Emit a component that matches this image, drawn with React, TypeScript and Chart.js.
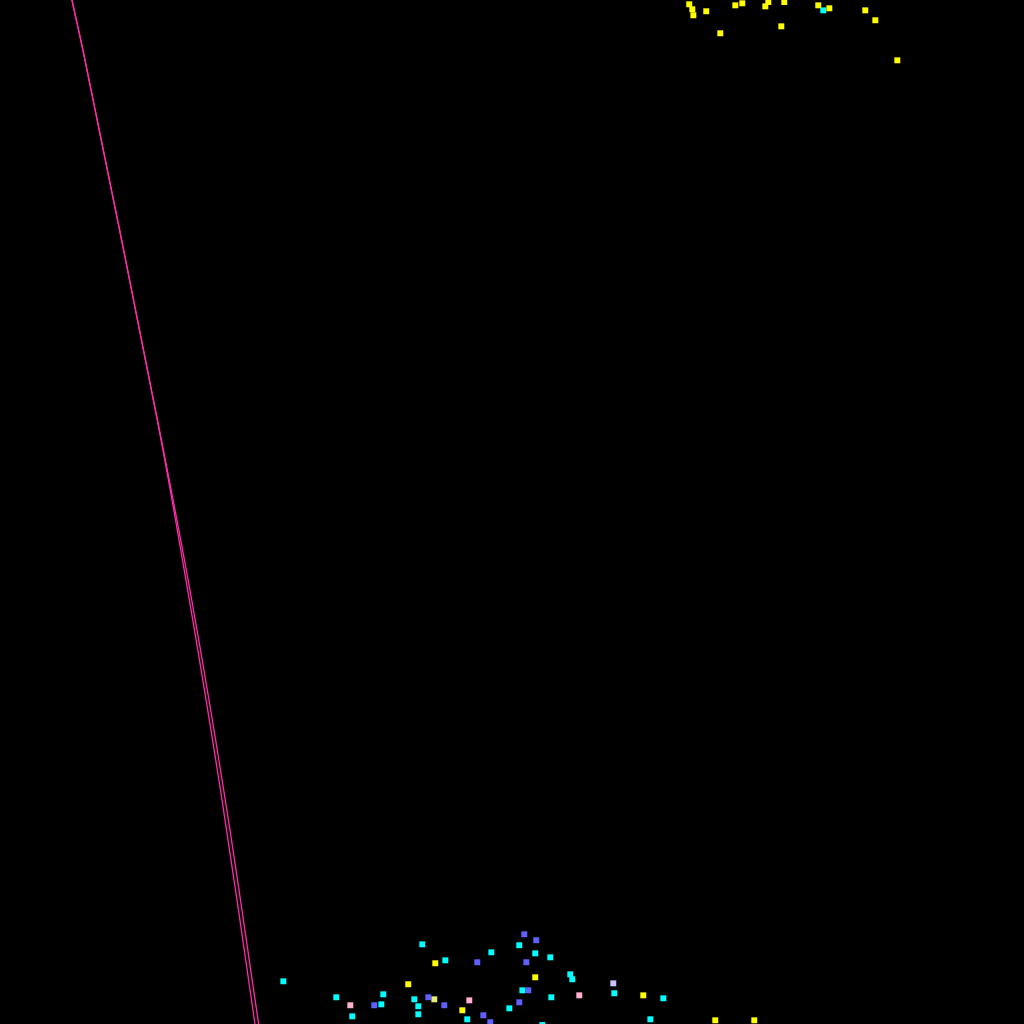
import { useEffect, useRef } from "react";
import Chart from "chart.js/auto";

// Both traces share the same y samples; they split apart a little below the middle
const lineY = [109.77, 100, 94.14, 58.98, 41.41, 21.88, 0, -7.42];
const lineAX = [4.98, 7.03, 8.3, 15.36, 18.49, 21.68, 24.9, 25.98];
const lineBX = [4.98, 7.03, 8.3, 15.38, 18.72, 22.0, 25.26, 26.37];

const yellowX = [67.31, 67.61, 67.71, 68.97, 70.34, 71.81, 72.49, 74.74, 75.03, 76.59, 76.3, 79.91, 80.99, 84.5, 85.48, 87.63, 42.51, 39.87, 45.15, 52.27, 62.82, 69.85, 73.66];
const yellowY = [99.58, 99.09, 98.51, 98.9, 96.75, 99.48, 99.68, 99.38, 99.8, 99.8, 97.43, 99.48, 99.19, 98.99, 98.02, 94.11, 5.93, 3.88, 1.34, 4.56, 2.8, 0.36, 0.36];

const cyanX = [80.4, 27.67, 41.24, 43.49, 47.98, 32.84, 34.4, 37.43, 37.24, 40.46, 40.85, 40.85, 45.63, 50.71, 52.27, 53.74, 55.69, 55.89, 51.01, 53.84, 59.99, 64.78, 49.74, 52.96, 63.51];
const cyanY = [98.99, 4.17, 7.78, 6.22, 7.0, 2.61, 0.75, 2.9, 1.92, 2.41, 1.73, 0.95, 0.46, 7.69, 6.9, 6.51, 4.85, 4.37, 3.29, 2.61, 3.0, 2.51, 1.53, -0.1, 0.46];

const blueX = [46.61, 36.55, 41.83, 43.39, 47.2, 47.88, 51.2, 52.37, 51.4, 51.59, 50.71];
const blueY = [6.03, 1.83, 2.61, 1.83, 0.85, 0.17, 8.76, 8.18, 6.03, 3.29, 2.12];

const pinkX = [34.21, 45.83, 56.57];
const pinkY = [1.83, 2.31, 2.8];

const lilacX = [59.89];
const lilacY = [3.97];

const limeX = [42.41];
const limeY = [2.41];

const toPoints = (xs: number[], ys: number[]) => xs.map((x, i) => ({ x, y: ys[i] }));

const pointSet = (label: string, xs: number[], ys: number[], color: string) => ({
  label,
  data: toPoints(xs, ys),
  backgroundColor: color,
  borderWidth: 0,
  pointStyle: "rect" as const,
  pointRadius: 4.2,
  clip: false as const,
});

export default function App() {
  const chartRef = useRef<HTMLCanvasElement>(null);
  const chartInstance = useRef<Chart | null>(null);

  useEffect(() => {
    if (!chartRef.current) return;
    document.body.style.margin = "0";
    document.body.style.background = "#000";

    if (chartInstance.current) {
      chartInstance.current.destroy();
    }

    const ctx = chartRef.current.getContext("2d");
    if (ctx) {
      chartInstance.current = new Chart(ctx, {
        type: "scatter",
        data: {
          datasets: [
            {
              label: "Trace A",
              data: toPoints(lineAX, lineY),
              showLine: true,
              borderColor: "#ff2aa8",
              borderWidth: 1.3,
              pointRadius: 0,
              tension: 0.4,
            },
            {
              label: "Trace B",
              data: toPoints(lineBX, lineY),
              showLine: true,
              borderColor: "#ff2aa8",
              borderWidth: 1.3,
              pointRadius: 0,
              tension: 0.4,
            },
            pointSet("Yellow", yellowX, yellowY, "#ffff00"),
            pointSet("Cyan", cyanX, cyanY, "#00ffff"),
            pointSet("Blue", blueX, blueY, "#6060ff"),
            pointSet("Pink", pinkX, pinkY, "#ffb0d0"),
            pointSet("Lilac", lilacX, lilacY, "#c8c0ff"),
            pointSet("Lime", limeX, limeY, "#e4f070"),
          ],
        },
        options: {
          animation: false,
          responsive: true,
          maintainAspectRatio: false,
          layout: { padding: 0, autoPadding: false },
          scales: {
            x: { type: "linear", min: 0, max: 100, display: false },
            y: { type: "linear", min: 0, max: 100, display: false },
          },
          plugins: {
            legend: { display: false },
            tooltip: { enabled: false },
          },
        },
      });
    }

    return () => {
      if (chartInstance.current) {
        chartInstance.current.destroy();
        chartInstance.current = null;
      }
    };
  }, []);

  return (
    <div style={{ position: "fixed", left: 0, top: 0, width: 1024, height: 1024, background: "#000" }}>
      <canvas ref={chartRef}></canvas>
    </div>
  );
}
